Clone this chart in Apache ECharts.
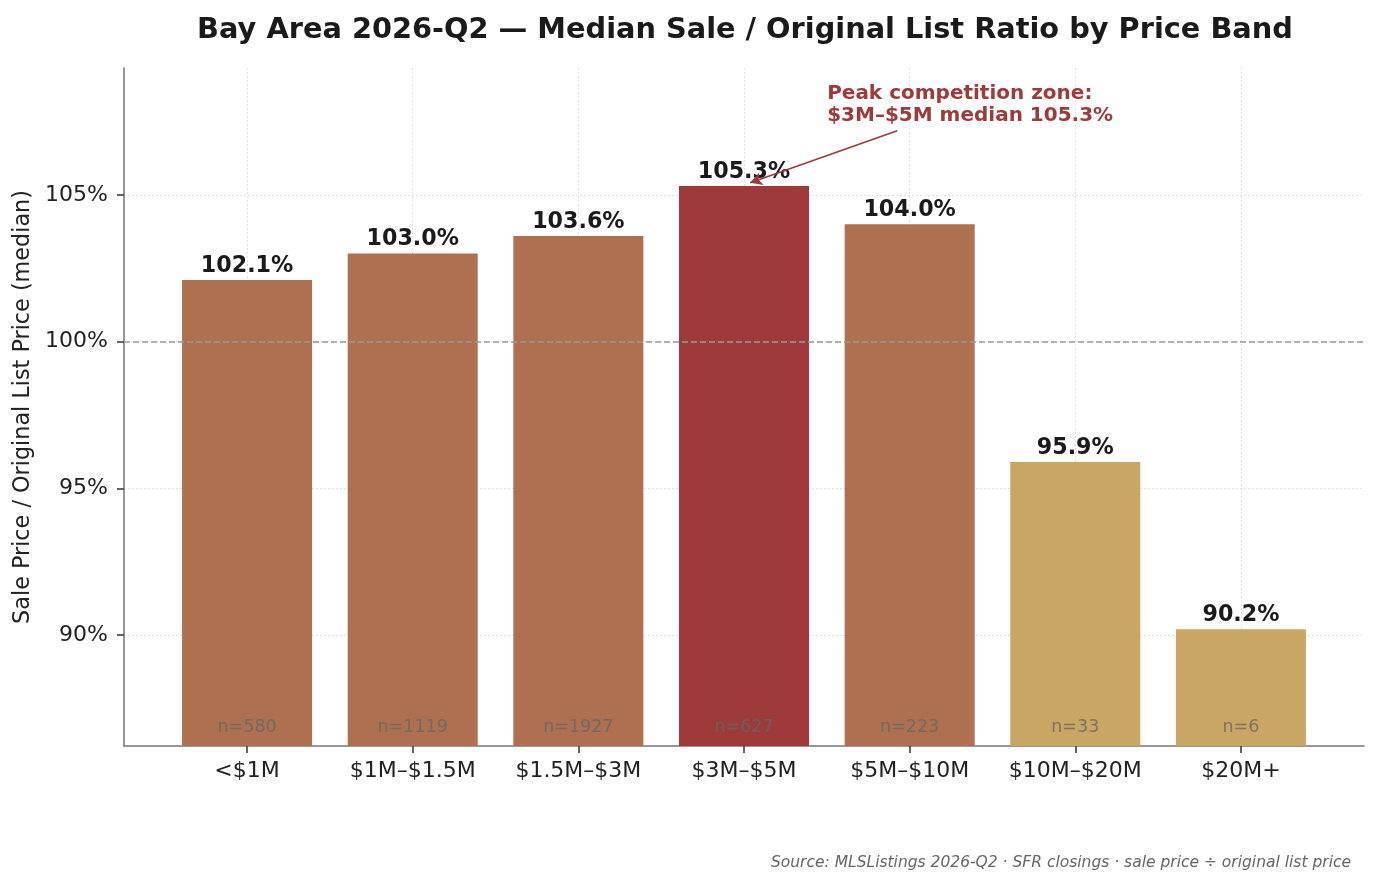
<!DOCTYPE html>
<html>
<head>
<meta charset="utf-8">
<title>Sale / Original List Ratio by Price Band</title>
<script src="https://cdn.jsdelivr.net/npm/echarts@6/dist/echarts.min.js"></script>
<style>
  html, body { margin: 0; padding: 0; background: #fff; }
  #chart { width: 1380px; height: 887px; }
</style>
</head>
<body>
<div id="chart"></div>
<script>
// price bands and medians (sale / original list, %)
const bands = ["<$1M", "$1M–$1.5M", "$1.5M–$3M", "$3M–$5M", "$5M–$10M", "$10M–$20M", "$20M+"];
const ratios = [102.1, 103.0, 103.6, 105.3, 104.0, 95.9, 90.2];
const counts = [580, 1119, 1927, 627, 223, 33, 6];
const yTicks = [90, 95, 100, 105];

const yMin = 86.22, yMax = 109.32;
const xMin = -0.743, xMax = bands.length - 1 + 0.743;

const COPPER = "#ae7050", RED = "#9e3a3a", TAN = "#c9a664";
const peak = ratios.indexOf(Math.max(...ratios));
const FONT = "DejaVu Sans";

const chart = echarts.init(document.getElementById("chart"));

const barData = ratios.map((v, i) => ({
  value: [i, v],
  itemStyle: { color: i === peak ? RED : (v < 100 ? TAN : COPPER) }
}));

const option = {
  backgroundColor: "#fff",
  animation: false,
  textStyle: { fontFamily: FONT },
  title: {
    text: "Bay Area 2026-Q2 — Median Sale / Original List Ratio by Price Band",
    left: 740, top: 11, textAlign: "center",
    textStyle: { fontFamily: FONT, fontSize: 28.8, fontWeight: "bold", color: "#1a1a1a" }
  },
  graphic: [{
    type: "text", right: 29, top: 855,
    style: {
      text: "Source: MLSListings 2026-Q2 · SFR closings · sale price ÷ original list price",
      font: "italic 15.5px 'DejaVu Sans'", fill: "#666"
    }
  }],
  grid: { left: 124, right: 16, top: 68, bottom: 141 },
  xAxis: {
    type: "value", min: xMin, max: xMax,
    axisLine: { show: true, onZero: false, lineStyle: { color: "#777", width: 1.5 } },
    axisTick: { show: true, customValues: bands.map((b, i) => i), length: 7, lineStyle: { color: "#333", width: 1.5 } },
    axisLabel: {
      customValues: bands.map((b, i) => i), margin: 14,
      fontSize: 22, color: "#222",
      formatter: v => bands[Math.round(v)]
    },
    splitLine: { show: false }
  },
  yAxis: {
    type: "value", min: yMin, max: yMax,
    name: "Sale Price / Original List Price (median)",
    nameLocation: "middle", nameGap: 86, nameRotate: 90,
    nameTextStyle: { fontSize: 22.3, color: "#222" },
    axisLine: { show: true, onZero: false, lineStyle: { color: "#777", width: 1.5 } },
    axisTick: { show: true, customValues: yTicks, length: 7, lineStyle: { color: "#333", width: 1.5 } },
    axisLabel: { customValues: yTicks, margin: 16, fontSize: 22, color: "#222", formatter: v => v + "%" },
    splitLine: { show: false }
  },
  series: [
    {
      // dotted background grid
      type: "line", data: [], silent: true, z: 0,
      markLine: {
        silent: true, symbol: "none", label: { show: false }, z: 0,
        lineStyle: { color: "#d9d9d9", type: [2, 2], width: 0.8 },
        data: yTicks.map(t => ({ yAxis: t })).concat(bands.map((b, i) => ({ xAxis: i })))
      }
    },
    {
      type: "bar", data: barData, barWidth: 130, clip: true, z: 2,
      label: {
        show: true, position: "top", distance: 3,
        fontSize: 22.2, fontWeight: "bold", color: "#1a1a1a",
        formatter: p => p.value[1].toFixed(1) + "%"
      },
      markLine: {
        silent: true, symbol: "none", label: { show: false }, z: 5,
        lineStyle: { color: "#999", type: [6, 3], width: 1.6 },
        data: [{ yAxis: 100 }]
      }
    },
    {
      // sample size labels at the base of the bars
      type: "scatter", symbolSize: 0, z: 4, silent: true,
      data: counts.map((n, i) => [i, yMin, n]),
      label: {
        show: true, position: "top", distance: 10,
        fontSize: 17.5, color: "#666",
        formatter: p => "n=" + p.value[2]
      }
    },
    {
      // annotation for the peak band
      type: "scatter", data: [], z: 6, silent: true,
      markLine: {
        silent: true, symbol: ["none", "arrow"], symbolSize: [10, 12],
        label: { show: false },
        lineStyle: { color: RED, type: "solid", width: 1.6 },
        data: [[{ coord: [peak + 0.925, 107.18] }, { coord: [peak + 0.037, ratios[peak] + 0.11] }]]
      },
      markPoint: {
        symbol: "circle", symbolSize: 0,
        data: [{ coord: [peak + 0.502, 108.06] }],
        label: {
          show: true, position: "right", distance: 0,
          align: "left", verticalAlign: "middle", lineHeight: 22,
          fontSize: 20, fontWeight: "bold", color: RED,
          formatter: "Peak competition zone:\n$3M–$5M median " + ratios[peak].toFixed(1) + "%"
        }
      }
    }
  ]
};

chart.setOption(option);
</script>
</body>
</html>
